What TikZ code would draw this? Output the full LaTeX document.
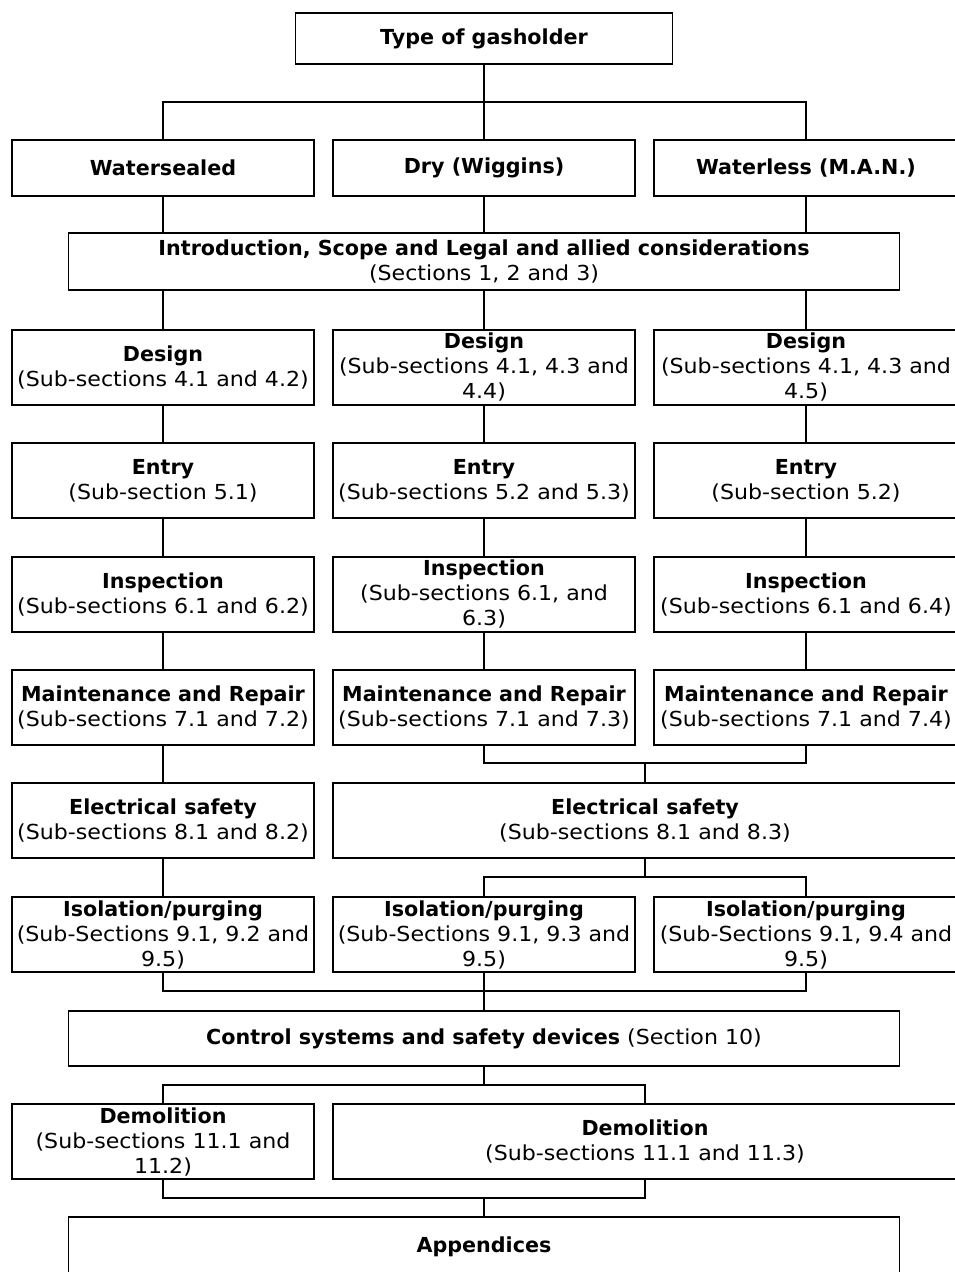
\documentclass[tikz,border=0pt]{standalone}
\usepackage{fontspec}
\setmainfont{DejaVu Sans}[UprightFeatures={FakeStretch=1.07}]
\begin{document}
\begin{tikzpicture}[x=0.75pt,y=-0.75pt,line width=1.3pt,
    box/.style={draw, align=center, inner sep=0pt, font=\fontsize{15.5}{18.75}\selectfont},
    col/.style={box, minimum width=226.5pt, minimum height=56.25pt},
    rcol/.style={col, minimum width=228pt},
    wide/.style={box, minimum width=468pt, minimum height=56.25pt},
    span/.style={box, minimum width=623.25pt}]
\clip (0,0) rectangle (955,1272);

\node[box, minimum width=282.75pt, minimum height=38.25pt] (type) at (484,38.5) {\textbf{Type of gasholder}};

\node[col, minimum height=42pt] (wat) at (163,168) {\textbf{Watersealed}};
\node[col, minimum height=42pt] (dry) at (484,168) {\textbf{Dry (Wiggins)}};
\node[rcol, minimum height=42pt] (man) at (806,168) {\textbf{Waterless (M.A.N.)}};

\node[span, minimum height=42.75pt] (intro) at (484,261.5) {\textbf{Introduction, Scope and Legal and allied considerations}\\(Sections 1, 2 and 3)};

\node[col] (des1) at (163,367.5) {\textbf{Design}\\(Sub-sections 4.1 and 4.2)};
\node[col] (des2) at (484,367.5) {\textbf{Design}\\(Sub-sections 4.1, 4.3 and\\4.4)};
\node[rcol] (des3) at (806,367.5) {\textbf{Design}\\(Sub-sections 4.1, 4.3 and\\4.5)};

\node[col] (ent1) at (163,480.5) {\textbf{Entry}\\(Sub-section 5.1)};
\node[col] (ent2) at (484,480.5) {\textbf{Entry}\\(Sub-sections 5.2 and 5.3)};
\node[rcol] (ent3) at (806,480.5) {\textbf{Entry}\\(Sub-section 5.2)};

\node[col] (ins1) at (163,594.5) {\textbf{Inspection}\\(Sub-sections 6.1 and 6.2)};
\node[col] (ins2) at (484,594.5) {\textbf{Inspection}\\(Sub-sections 6.1, and\\6.3)};
\node[rcol] (ins3) at (806,594.5) {\textbf{Inspection}\\(Sub-sections 6.1 and 6.4)};

\node[col] (mnt1) at (163,707.5) {\textbf{Maintenance and Repair}\\(Sub-sections 7.1 and 7.2)};
\node[col] (mnt2) at (484,707.5) {\textbf{Maintenance and Repair}\\(Sub-sections 7.1 and 7.3)};
\node[rcol] (mnt3) at (806,707.5) {\textbf{Maintenance and Repair}\\(Sub-sections 7.1 and 7.4)};

\node[col] (ele1) at (163,820.5) {\textbf{Electrical safety}\\(Sub-sections 8.1 and 8.2)};
\node[wide] (ele2) at (645,820.5) {\textbf{Electrical safety}\\(Sub-sections 8.1 and 8.3)};

\node[col] (iso1) at (163,934.5) {\textbf{Isolation/purging}\\(Sub-Sections 9.1, 9.2 and\\9.5)};
\node[col] (iso2) at (484,934.5) {\textbf{Isolation/purging}\\(Sub-Sections 9.1, 9.3 and\\9.5)};
\node[rcol] (iso3) at (806,934.5) {\textbf{Isolation/purging}\\(Sub-Sections 9.1, 9.4 and\\9.5)};

\node[span, minimum height=41.25pt] (ctl) at (484,1038.5) {\textbf{Control systems and safety devices} (Section 10)};

\node[col] (dem1) at (163,1141.5) {\textbf{Demolition}\\(Sub-sections 11.1 and\\11.2)};
\node[wide] (dem2) at (645,1141.5) {\textbf{Demolition}\\(Sub-sections 11.1 and 11.3)};

\node[span, minimum height=45pt] (app) at (484,1247) {\textbf{Appendices}};

\coordinate (b1) at (484,102);
\coordinate (b2) at (645,763);
\coordinate (b3) at (645,877);
\coordinate (b4) at (484,991);
\coordinate (b5) at (484,1085);
\coordinate (b6) at (484,1198);

\draw (type) -- (b1) -- (dry);
\draw (wat) |- (b1) -| (man);
\draw (wat) -- (wat |- intro.north);
\draw (dry) -- (intro);
\draw (man) -- (man |- intro.north);
\draw (des1 |- intro.south) -- (des1);
\draw (intro) -- (des2);
\draw (des3 |- intro.south) -- (des3);
\draw (des1) -- (ent1) -- (ins1) -- (mnt1) -- (ele1) -- (iso1);
\draw (des2) -- (ent2) -- (ins2) -- (mnt2);
\draw (des3) -- (ent3) -- (ins3) -- (mnt3);
\draw (mnt2) |- (b2) -| (mnt3);
\draw (b2) -- (ele2) -- (b3);
\draw (iso2) |- (b3) -| (iso3);
\draw (iso1) |- (b4) -| (iso3);
\draw (iso2) -- (ctl) -- (b5);
\draw (dem1) |- (b5) -| (dem2);
\draw (dem1) |- (b6) -| (dem2);
\draw (b6) -- (app);

\end{tikzpicture}
\end{document}
